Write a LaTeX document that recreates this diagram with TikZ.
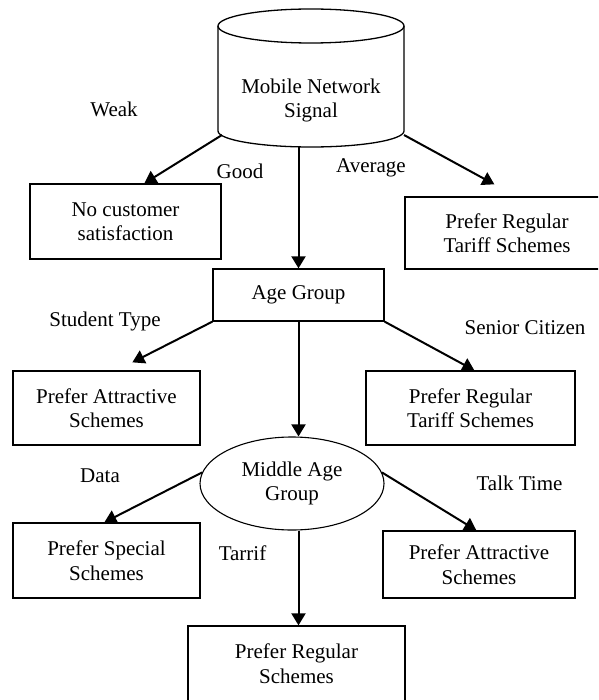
\documentclass[tikz,border=0pt]{standalone}
\usepackage{fontspec}
\setmainfont{Liberation Serif}
\usetikzlibrary{arrows.meta,shapes.geometric}
\begin{document}
\begin{tikzpicture}[x=1pt,y=-1pt,
  txt/.style={font=\fontsize{21}{24.5}\selectfont, align=center, inner sep=0pt},
  boxnode/.style={txt, draw, line width=1.3pt, rectangle},
  ellnode/.style={txt, draw, line width=1.1pt, ellipse},
  lbl/.style={font=\fontsize{21}{24.5}\selectfont, inner sep=0pt, anchor=base},
  conn/.style={line width=2pt, -{Triangle[length=12pt,width=14pt]}}]
\useasboundingbox (0,0) rectangle (598,700);
\clip (0,0) rectangle (598,700);
% cylinder
\draw[line width=1.3pt] (311,26) ellipse [x radius=93pt, y radius=17pt];
\draw[line width=1.3pt] (218,26) -- (218,131) arc[start angle=180, end angle=360, x radius=93pt, y radius=16pt] -- (404,26);
\node[txt] (sig) at (311,100.5) {Mobile Network\\Signal};
\coordinate (cylL) at (222,135);
\coordinate (cylB) at (298.5,146);
\coordinate (cylR) at (404,135);
% boxes
\node[boxnode, minimum width=191pt, minimum height=75pt] (nocust) at (125.5,221.5) {No customer\\satisfaction};
\node[boxnode, minimum width=204pt, minimum height=72pt] (tariffA) at (507,233) {Prefer Regular\\Tariff Schemes};
\node[boxnode, minimum width=171pt, minimum height=52pt] (age) at (298.5,295) {Age Group};
\node[boxnode, minimum width=187pt, minimum height=74pt] (attrA) at (106.5,408) {Prefer Attractive\\Schemes};
\node[boxnode, minimum width=209pt, minimum height=74pt] (tariffB) at (470.5,408) {Prefer Regular\\Tariff Schemes};
\node[ellnode, minimum width=184pt, minimum height=93pt] (mid) at (292,483.5) {Middle Age\\Group};
\node[boxnode, minimum width=187pt, minimum height=75pt] (special) at (106.5,560.5) {Prefer Special\\Schemes};
\node[boxnode, minimum width=192pt, minimum height=67pt] (attrB) at (479,564.5) {Prefer Attractive\\Schemes};
\node[boxnode, minimum width=217pt, minimum height=75pt] (regular) at (296.5,663.5) {Prefer Regular\\Schemes};
% labels
\node[lbl] (lweak) at (114,117) {Weak};
\node[lbl] (lgood) at (240,179) {Good};
\node[lbl] (lavg) at (371,173) {Average};
\node[lbl] (lstud) at (105,326) {Student Type};
\node[lbl] (lsen) at (525,334) {Senior Citizen};
\node[lbl] (ldata) at (100,482) {Data};
\node[lbl] (ltar) at (242.5,560) {Tarrif};
\node[lbl] (ltalk) at (519.5,490) {Talk Time};
% connectors
\draw[conn] (cylL) -- ([xshift=115pt]nocust.north west);
\draw[conn] (cylB) -- (age.north);
\draw[conn] (cylR) -- ([xshift=90pt,yshift=12pt]tariffA.north west);
\draw[conn] (age.south west) -- ([xshift=120pt,yshift=8pt]attrA.north west);
\draw[conn] (age.south east) -- ([xshift=109pt]tariffB.north west);
\draw[conn] (age.south) -- (age.south |- mid.north);
\draw[conn] (mid.173) -- ([xshift=92pt]special.north west);
\draw[conn] (mid.7) -- ([xshift=94pt]attrB.north west);
\draw[conn] (age.south |- mid.south) -- (age.south |- regular.north);
\end{tikzpicture}
\end{document}
